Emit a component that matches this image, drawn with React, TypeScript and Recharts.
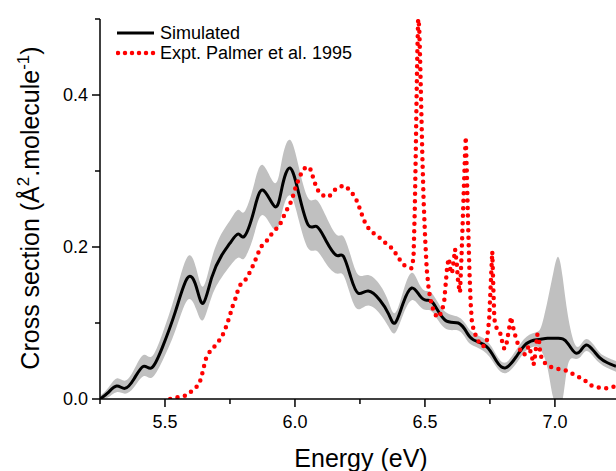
import React from 'react';
import { ComposedChart, Area, Line, XAxis, YAxis } from 'recharts';

// simulated spectrum (black line) and its uncertainty band (grey)
const simEnergy = [
  5.25, 5.28, 5.314, 5.346, 5.38, 5.417, 5.449, 5.49, 5.54, 5.586, 5.62, 5.647, 5.68, 5.718, 5.75,
  5.782, 5.805, 5.84, 5.876, 5.923, 5.95, 5.981, 6.015, 6.051, 6.083, 6.12, 6.16, 6.186, 6.215,
  6.244, 6.282, 6.327, 6.36, 6.385, 6.415, 6.449, 6.48, 6.506, 6.532, 6.577, 6.628, 6.66, 6.686,
  6.737, 6.775, 6.81, 6.85, 6.891, 6.93, 6.95, 6.972, 6.995, 7.013, 7.03, 7.05, 7.077, 7.1, 7.122,
  7.15, 7.173, 7.2, 7.235,
];
const simValue = [
  0.0, 0.008, 0.017, 0.014, 0.026, 0.043, 0.041, 0.068, 0.115, 0.159, 0.148, 0.126, 0.16, 0.189, 0.205,
  0.217, 0.214, 0.245, 0.275, 0.253, 0.278, 0.304, 0.27, 0.229, 0.227, 0.208, 0.189, 0.188, 0.16,
  0.139, 0.142, 0.13, 0.112, 0.1, 0.125, 0.146, 0.136, 0.13, 0.126, 0.104, 0.1, 0.088, 0.078,
  0.069, 0.05, 0.041, 0.055, 0.073, 0.078, 0.079, 0.08, 0.08, 0.08, 0.079, 0.073, 0.061, 0.064, 0.071,
  0.063, 0.054, 0.048, 0.043,
];
const simLow = [
  0.0, 0.002, 0.009, 0.007, 0.015, 0.03, 0.028, 0.05, 0.09, 0.13, 0.118, 0.104, 0.135, 0.16, 0.175,
  0.186, 0.185, 0.213, 0.242, 0.222, 0.245, 0.268, 0.235, 0.198, 0.195, 0.178, 0.165, 0.163, 0.135,
  0.118, 0.123, 0.112, 0.095, 0.087, 0.11, 0.13, 0.122, 0.117, 0.113, 0.093, 0.09, 0.078, 0.07,
  0.06, 0.042, 0.034, 0.046, 0.064, 0.069, 0.062, 0.04, 0.0, 0.0, 0.0, 0.045, 0.053, 0.056, 0.063,
  0.055, 0.047, 0.041, 0.036,
];
const simHigh = [
  0.004, 0.014, 0.027, 0.024, 0.038, 0.058, 0.056, 0.086, 0.138, 0.187, 0.172, 0.148, 0.185, 0.218, 0.235,
  0.249, 0.246, 0.279, 0.308, 0.284, 0.315, 0.341, 0.305, 0.264, 0.262, 0.24, 0.216, 0.214, 0.188,
  0.163, 0.163, 0.15, 0.128, 0.113, 0.14, 0.166, 0.15, 0.142, 0.137, 0.115, 0.108, 0.097, 0.087,
  0.077, 0.058, 0.048, 0.064, 0.082, 0.088, 0.098, 0.13, 0.168, 0.187, 0.16, 0.11, 0.072, 0.072, 0.079,
  0.071, 0.061, 0.055, 0.05,
];

// experiment, Palmer et al. 1995 (red dots)
const exptEnergy = [
  5.52, 5.545, 5.565, 5.585, 5.605, 5.625, 5.638, 5.648, 5.656, 5.672, 5.695, 5.718, 5.735, 5.748,
  5.76, 5.772, 5.783, 5.795, 5.81, 5.827, 5.842, 5.855, 5.868, 5.891, 5.914, 5.94, 5.955, 5.972,
  5.987, 6.0, 6.015, 6.03, 6.045, 6.06, 6.072, 6.085, 6.105, 6.13, 6.156, 6.186, 6.212, 6.235,
  6.25, 6.262, 6.275, 6.295, 6.32, 6.346, 6.378, 6.397, 6.42, 6.448, 6.456, 6.461, 6.465, 6.468,
  6.471, 6.474, 6.478, 6.482, 6.486, 6.49, 6.495, 6.501, 6.507, 6.515, 6.525, 6.537, 6.55, 6.564,
  6.574, 6.58, 6.586, 6.592, 6.598, 6.604, 6.61, 6.616, 6.622, 6.628, 6.635, 6.641, 6.648, 6.654,
  6.657, 6.661, 6.666, 6.671, 6.676, 6.681, 6.69, 6.705, 6.722, 6.737, 6.747, 6.753, 6.759, 6.763,
  6.767, 6.776, 6.788, 6.796, 6.805, 6.814, 6.824, 6.831, 6.838, 6.846, 6.856, 6.868, 6.882, 6.9,
  6.912, 6.918, 6.925, 6.932, 6.938, 6.943, 6.95, 6.965, 6.985, 7.017, 7.047, 7.079, 7.109, 7.138,
  7.17, 7.2, 7.235,
];
const exptValue = [
  0.0, 0.002, 0.003, 0.005, 0.011, 0.017, 0.026, 0.04, 0.052, 0.062, 0.071, 0.081, 0.095, 0.108,
  0.122, 0.133, 0.146, 0.153, 0.157, 0.167, 0.178, 0.189, 0.2, 0.208, 0.219, 0.228, 0.239, 0.251,
  0.261, 0.276, 0.29, 0.301, 0.306, 0.302, 0.289, 0.276, 0.268, 0.266, 0.276, 0.281, 0.275, 0.263,
  0.25, 0.238, 0.228, 0.22, 0.214, 0.206, 0.197, 0.186, 0.176, 0.172, 0.185, 0.25, 0.33, 0.4,
  0.46, 0.5, 0.49, 0.44, 0.38, 0.32, 0.26, 0.21, 0.17, 0.143, 0.125, 0.112, 0.107, 0.114,
  0.128, 0.152, 0.176, 0.185, 0.17, 0.165, 0.18, 0.197, 0.18, 0.152, 0.14, 0.19, 0.26, 0.32,
  0.345, 0.3, 0.23, 0.17, 0.125, 0.1, 0.088, 0.076, 0.069, 0.073, 0.104, 0.15, 0.194, 0.148,
  0.105, 0.093, 0.089, 0.077, 0.066, 0.073, 0.093, 0.108, 0.096, 0.085, 0.074, 0.063, 0.058, 0.07,
  0.055, 0.045, 0.06, 0.085, 0.08, 0.062, 0.052, 0.046, 0.042, 0.039, 0.037, 0.031, 0.026, 0.018,
  0.015, 0.014, 0.017,
];

const xTickValues = [5.25, 5.5, 5.75, 6.0, 6.25, 6.5, 6.75, 7.0];
const xTickLabels = ['', '5.5', '', '6.0', '', '6.5', '', '7.0'];
const yTickValues = [0, 0.1, 0.2, 0.3, 0.4, 0.5];
const yTickLabels = ['0.0', '', '0.2', '', '0.4', ''];

const simData = simEnergy.map((e, i) => ({
  e,
  y: simValue[i],
  band: [simLow[i], simHigh[i]],
}));
const exptData = exptEnergy.map((e, i) => ({ e, y: exptValue[i] }));

const FONT = '"Liberation Sans", Arial, Helvetica, sans-serif';

const XTick = (props: any) => {
  const { x, y, payload } = props;
  const idx = xTickValues.findIndex((v) => Math.abs(v - payload.value) < 1e-6);
  const label = idx >= 0 ? xTickLabels[idx] : '';
  const len = label ? 8 : 5;
  return (
    <g>
      <line x1={x} y1={y} x2={x} y2={y + len} stroke="#000" strokeWidth={1.5} />
      {label && (
        <text x={x} y={y + 23} dy="0.36em" textAnchor="middle" fontSize={18} fontFamily={FONT} fill="#000">
          {label}
        </text>
      )}
    </g>
  );
};

const YTick = (props: any) => {
  const { x, y, payload } = props;
  const idx = yTickValues.findIndex((v) => Math.abs(v - payload.value) < 1e-6);
  const label = idx >= 0 ? yTickLabels[idx] : '';
  const len = label ? 8 : 5;
  return (
    <g>
      <line x1={x - len} y1={y} x2={x} y2={y} stroke="#000" strokeWidth={1.5} />
      {label && (
        <text x={x - 12} y={y} dy="0.36em" textAnchor="end" fontSize={18} fontFamily={FONT} fill="#000">
          {label}
        </text>
      )}
    </g>
  );
};

const XLabel = (props: any) => {
  const vb = props.viewBox || { x: 100, y: 399, width: 516, height: 72 };
  return (
    <text x={vb.x + vb.width / 2 + 3} y={vb.y + 68} textAnchor="middle" fontSize={25} fontFamily={FONT} fill="#000">
      Energy (eV)
    </text>
  );
};

const YLabel = () => {
  const cx = 39;
  const cy = 208;
  return (
    <text
      x={cx}
      y={cy}
      transform={`rotate(-90, ${cx}, ${cy})`}
      textAnchor="middle"
      fontSize={25}
      fontFamily={FONT}
      fill="#000"
    >
      Cross section (Å
      <tspan dy={-10} fontSize={17}>2</tspan>
      <tspan dy={10}>.molecule</tspan>
      <tspan dy={-10} fontSize={17}>-1</tspan>
      <tspan dy={10}>)</tspan>
    </text>
  );
};

export default function App() {
  return (
    <div style={{ position: 'absolute', left: 0, top: 0, width: 616, height: 471, background: '#fff' }}>
      <ComposedChart
        width={616}
        height={471}
        data={simData}
        margin={{ top: 19, right: 0, bottom: 0, left: 0 }}
      >
        <XAxis
          dataKey="e"
          type="number"
          domain={[5.25, 7.235]}
          allowDataOverflow
          ticks={xTickValues}
          interval={0}
          height={72}
          tickLine={false}
          tickSize={0}
          tickMargin={0}
          tick={<XTick />}
          axisLine={{ stroke: '#000', strokeWidth: 1.5 }}
          label={<XLabel />}
        />
        <YAxis
          type="number"
          domain={[0, 0.5]}
          allowDataOverflow
          ticks={yTickValues}
          interval={0}
          width={100}
          tickLine={false}
          tickSize={0}
          tickMargin={0}
          tick={<YTick />}
          axisLine={{ stroke: '#000', strokeWidth: 1.5 }}
          label={<YLabel />}
        />
        <Area
          dataKey="band"
          type="natural"
          fill="#c0c0c0"
          fillOpacity={1}
          stroke="none"
          isAnimationActive={false}
        />
        <Line
          dataKey="y"
          type="natural"
          stroke="#000"
          strokeWidth={3}
          dot={false}
          isAnimationActive={false}
        />
        <Line
          data={exptData}
          dataKey="y"
          type="linear"
          stroke="#ff0000"
          strokeWidth={4.5}
          strokeDasharray="0 7.5"
          strokeLinecap="round"
          dot={false}
          isAnimationActive={false}
        />
      </ComposedChart>
      <div style={{ position: 'absolute', left: 116, top: 23, fontFamily: FONT, fontSize: 18, color: '#000' }}>
        <div style={{ display: 'flex', alignItems: 'center', height: 20 }}>
          <svg width={44} height={20}>
            <line x1={1} y1={10} x2={38} y2={10} stroke="#000" strokeWidth={3} />
          </svg>
          <span>Simulated</span>
        </div>
        <div style={{ display: 'flex', alignItems: 'center', height: 20 }}>
          <svg width={44} height={20}>
            <line
              x1={2}
              y1={10}
              x2={38}
              y2={10}
              stroke="#ff0000"
              strokeWidth={4.5}
              strokeDasharray="0 7"
              strokeLinecap="round"
            />
          </svg>
          <span>Expt. Palmer et al. 1995</span>
        </div>
      </div>
    </div>
  );
}
